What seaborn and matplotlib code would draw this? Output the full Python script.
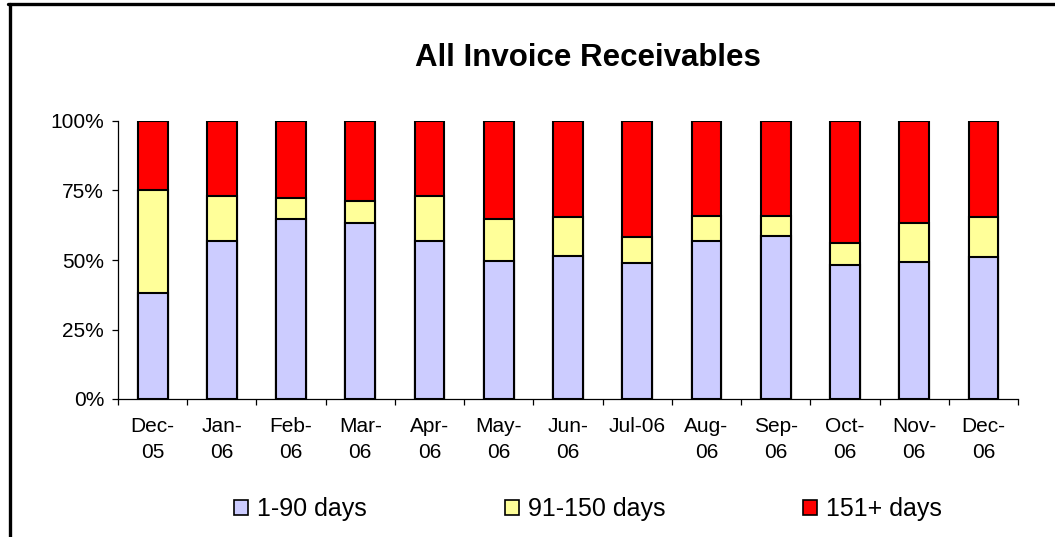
import seaborn as sns
import matplotlib.pyplot as plt
import matplotlib.patches as mpatches
import matplotlib.ticker as ticker
from matplotlib.lines import Line2D
import numpy as np

months = ["Dec-\n05", "Jan-\n06", "Feb-\n06", "Mar-\n06", "Apr-\n06", "May-\n06",
          "Jun-\n06", "Jul-06", "Aug-\n06", "Sep-\n06", "Oct-\n06", "Nov-\n06", "Dec-\n06"]
days_1_90 = [38.1, 56.8, 64.7, 63.2, 56.7, 49.5, 51.6, 48.8, 56.7, 58.8, 48.1, 49.3, 50.9]
days_91_150 = [37.1, 16.4, 7.7, 7.9, 16.5, 15.2, 13.7, 9.3, 9.2, 7.1, 7.9, 13.9, 14.4]
days_151 = [24.8, 26.8, 27.6, 28.9, 26.8, 35.3, 34.7, 41.9, 34.1, 34.1, 44.0, 36.8, 34.7]
series_names = ["1-90 days", "91-150 days", "151+ days"]
colors = ["#CCCCFF", "#FFFF99", "#FF0000"]

sns.set_style("white")
plt.rcParams['font.family'] = ['Liberation Sans', 'DejaVu Sans']
plt.rcParams.update({'text.color': 'black', 'xtick.color': 'black',
                     'ytick.color': 'black', 'axes.labelcolor': 'black'})

fig = plt.figure(figsize=(10.55, 5.37), dpi=100)
ax = fig.add_axes([118 / 1055, 1 - 399 / 537, 900 / 1055, 278 / 537])

# stacked bars drawn as overlapping cumulative totals, tallest first
layers = np.cumsum([days_1_90, days_91_150, days_151], axis=0)
for i in [2, 1, 0]:
    sns.barplot(x=months, y=layers[i], color=colors[i], width=0.43,
                edgecolor="black", linewidth=1.5, saturation=1, ax=ax)

ax.set_xlim(-0.5, len(months) - 0.5)
ax.set_ylim(0, 100)
ax.set_yticks([0, 25, 50, 75, 100])
ax.yaxis.set_major_formatter(ticker.PercentFormatter(decimals=0))
ax.set_xlabel("")
ax.set_ylabel("")

for side in ["top", "right"]:
    ax.spines[side].set_visible(False)
for side in ["left", "bottom"]:
    ax.spines[side].set_color("black")
    ax.spines[side].set_linewidth(0.9)

ax.set_xticks(np.arange(-0.5, len(months)), minor=True)
ax.tick_params(axis="x", which="minor", length=4, width=0.9, direction="out",
               bottom=True, color="black")
ax.tick_params(axis="x", which="major", length=0, pad=13, labelsize=15,
               labelcolor="black")
ax.tick_params(axis="y", length=4, width=0.9, direction="out", left=True,
               color="black", pad=6, labelsize=15, labelcolor="black")
for lbl in ax.get_xticklabels():
    lbl.set_linespacing(1.45)

fig.text(588 / 1055, 1 - 57.5 / 537, "All Invoice Receivables", ha="center",
         va="center", fontsize=22.5, fontweight="bold", color="black")

handles = [mpatches.Patch(facecolor=c, edgecolor="black", linewidth=1.2, label=n)
           for c, n in zip(colors, series_names)]
fig.legend(handles=handles, loc="center", bbox_to_anchor=(588 / 1055, 1 - 509 / 537),
           ncol=3, frameon=False, fontsize=18, handlelength=0.56, handleheight=0.56,
           handletextpad=0.36, columnspacing=5.5, labelcolor="black")

# outer chart frame (left and top edges visible)
fig.add_artist(Line2D([9.5 / 1055, 9.5 / 1055], [0, 1 - 4 / 537], color="black",
                      linewidth=2.4, transform=fig.transFigure))
fig.add_artist(Line2D([8.3 / 1055, 1], [1 - 4 / 537, 1 - 4 / 537], color="black",
                      linewidth=2.4, transform=fig.transFigure))

fig.savefig("out.png", dpi=100)
